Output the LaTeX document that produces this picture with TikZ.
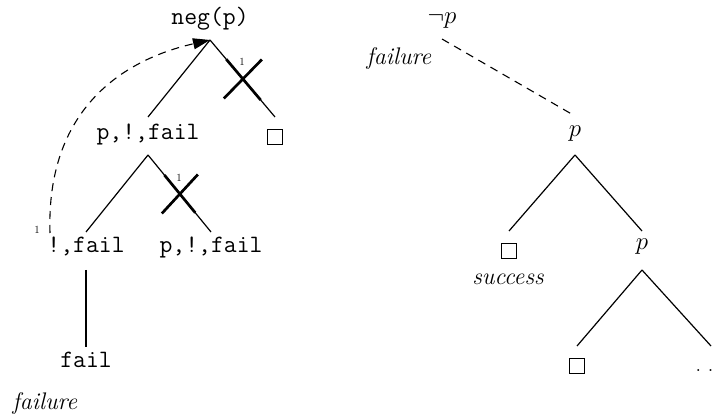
\documentclass[tikz,border=0pt]{standalone}
\usetikzlibrary{arrows.meta,calc}
\begin{document}
\begin{tikzpicture}[x=1pt,y=-1pt,
  tt/.style={font=\fontsize{25}{28}\selectfont\ttfamily, inner sep=0pt, anchor=base},
  itx/.style={font=\fontsize{24}{28}\selectfont\itshape, inner sep=0pt, anchor=base},
  mth/.style={font=\fontsize{24}{28}\selectfont, inner sep=0pt, anchor=base},
  sq/.style={draw, line width=1.3pt, minimum size=15.5pt, inner sep=0pt},
  ln/.style={line width=1.2pt},
  xcut/.style={line width=2.7pt},
  dsh/.style={line width=1.1pt, dash pattern=on 8pt off 6pt},
  lbl/.style={font=\fontsize{11}{12}\selectfont, inner sep=0pt}]
\useasboundingbox (0,0) rectangle (720,419);
% left tree
\node[tt] (neg) at (210,25) {neg(p)};
\node[tt] (pf1) at (148,140) {p,!,fail};
\node[sq] (b1) at (275,137) {};
\node[tt] (ef) at (86,253) {!,fail};
\node[tt] (pf2) at (211,253) {p,!,fail};
\node[tt] (fl) at (86,368) {fail};
\node[itx] (fa1) at (45,409) {failure};
\coordinate (negS) at ([yshift=-15pt]neg.base);
\coordinate (pf1N) at ([yshift=23pt]pf1.base);
\coordinate (pf1S) at ([yshift=-15pt]pf1.base);
\coordinate (b1N) at ([yshift=20pt]b1.center);
\coordinate (efN) at ([yshift=21pt]ef.base);
\coordinate (pf2N) at ([yshift=21pt]pf2.base);
\coordinate (efS) at ([yshift=-17pt]ef.base);
\coordinate (flN) at ([yshift=21pt]fl.base);
\coordinate (dst) at ([xshift=-36pt,yshift=20pt]ef.base);
\draw[ln] (negS) -- (pf1N);
\draw[ln] (negS) -- (b1N);
\draw[ln] (pf1S) -- (efN);
\draw[ln] (pf1S) -- (pf2N);
\draw[ln] (efS) -- (flN);
% cuts
\draw[xcut] ($(negS)!0.25!(b1N)$) -- ($(negS)!0.78!(b1N)$);
\draw[xcut] ($(negS)!0.506!(b1N)+(-19,19.5)$) -- ($(negS)!0.506!(b1N)+(19,-19.5)$);
\node[lbl] (c1) at (242,62) {1};
\draw[xcut] ($(pf1S)!0.26!(pf2N)$) -- ($(pf1S)!0.75!(pf2N)$);
\draw[xcut] ($(pf1S)!0.506!(pf2N)+(-18,19.5)$) -- ($(pf1S)!0.506!(pf2N)+(18,-19.5)$);
\node[lbl] (c2) at (179,178) {1};
% dashed back arrow
\draw[dsh, -{Triangle[length=17pt,width=11pt]}] (dst) .. controls (46,110) and (122,60) .. (negS);
\node[lbl] (c3) at (37,230) {1};
% right tree
\node[mth] (np) at (442,24) {$\neg p$};
\node[itx] (fa2) at (399,65) {failure};
\node[mth] (p1) at (575,137) {$p$};
\node[sq] (b2) at (509,251) {};
\node[itx] (suc) at (508,285) {success};
\node[mth] (p2) at (642,250) {$p$};
\node[sq] (b3) at (577,366) {};
\node[mth] (dots) at (704.5,372) {.\hspace{6.3pt}.};
\coordinate (dtop) at ([xshift=6.5pt,yshift=26pt]dots.base);
\draw[dsh] ([yshift=-15pt]np.base) -- ([yshift=21pt]p1.base);
\draw[ln] ([yshift=-18pt]p1.base) -- ([yshift=20pt]b2.center);
\draw[ln] ([yshift=-18pt]p1.base) -- ([yshift=19pt]p2.base);
\draw[ln] ([yshift=-20pt]p2.base) -- ([yshift=20pt]b3.center);
\draw[ln] ([yshift=-20pt]p2.base) -- (dtop);
\end{tikzpicture}
\end{document}
